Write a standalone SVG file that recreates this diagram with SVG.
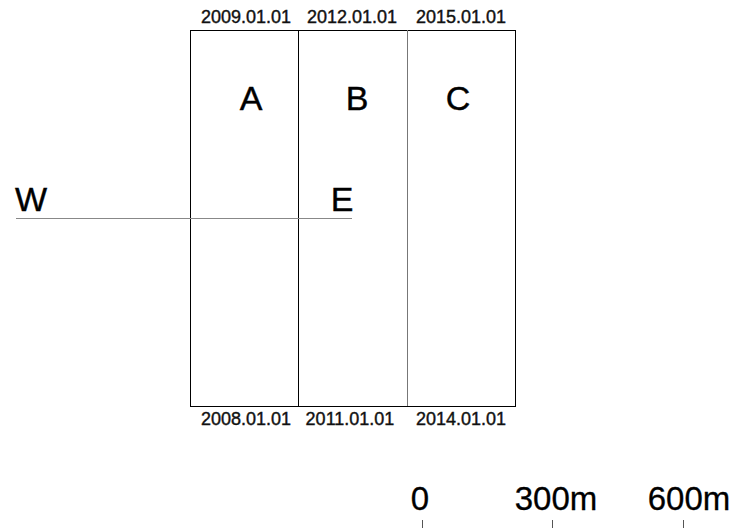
<svg xmlns="http://www.w3.org/2000/svg" width="736" height="528" viewBox="0 0 736 528">
<style>
.lbl{font-family:"Liberation Sans",Arial,sans-serif;font-size:18px;fill:#111;text-anchor:middle;stroke:#111;stroke-width:0.4}
.big{font-family:"Liberation Sans",Arial,sans-serif;font-size:34px;fill:#000;text-anchor:middle;stroke:#000;stroke-width:0.4}
.scl{font-family:"Liberation Sans",Arial,sans-serif;font-size:33px;fill:#000;text-anchor:middle;stroke:#000;stroke-width:0.3}
</style>
<rect width="736" height="528" fill="#fff"/>
<g id="frame">
<rect x="190.5" y="30.5" width="325" height="376" fill="none" stroke="#000" stroke-width="1"/>
</g>
<g id="connectors">
<line x1="298.5" y1="30" x2="298.5" y2="406" stroke="#000" stroke-width="1"/>
<line x1="407.5" y1="30" x2="407.5" y2="406" stroke="#777" stroke-width="1"/>
<line x1="16" y1="218.5" x2="352" y2="218.5" stroke="#888" stroke-width="1"/>
</g>
<g id="top-labels">
<text class="lbl" x="246" y="23">2009.01.01</text>
<text class="lbl" x="352" y="23">2012.01.01</text>
<text class="lbl" x="461" y="23">2015.01.01</text>
</g>
<g id="bottom-labels">
<text class="lbl" x="246" y="425">2008.01.01</text>
<text class="lbl" x="350" y="425">2011.01.01</text>
<text class="lbl" x="461" y="425">2014.01.01</text>
</g>
<g id="node-A"><text class="big" x="251" y="110">A</text></g>
<g id="node-B"><text class="big" x="357" y="110">B</text></g>
<g id="node-C"><text class="big" x="458" y="110">C</text></g>
<g id="node-W"><text class="big" x="31" y="211">W</text></g>
<g id="node-E"><text class="big" x="342" y="211">E</text></g>
<g id="scale">
<text class="scl" x="420" y="510">0</text>
<text class="scl" x="556" y="510">300m</text>
<text class="scl" x="689" y="510">600m</text>
<line x1="422.5" y1="520" x2="422.5" y2="528" stroke="#555" stroke-width="1"/>
<line x1="552.5" y1="520" x2="552.5" y2="528" stroke="#555" stroke-width="1"/>
<line x1="683.5" y1="520" x2="683.5" y2="528" stroke="#555" stroke-width="1"/>
</g>
</svg>
